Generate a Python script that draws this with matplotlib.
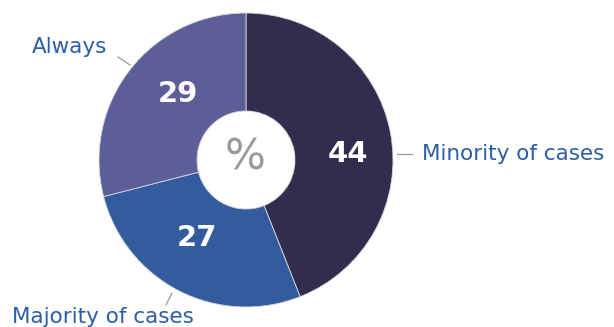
import matplotlib
matplotlib.use('Agg')
import matplotlib.pyplot as plt

# Share of cases, in percent
labels = ["Minority of cases", "Majority of cases", "Always"]
values = [44, 27, 29]
colors = ['#312d4e', '#335c9f', '#5b5e97']

plt.rcParams['font.family'] = ['DejaVu Sans']

fig = plt.figure(figsize=(6.14, 3.27), dpi=100, facecolor='white')
ax = fig.add_axes([0, 0, 1, 1])
ax.set_xlim(0, 614)
ax.set_ylim(327, 0)
ax.set_aspect('equal')
ax.axis('off')

cx, cy, r_out, r_in = 246, 160, 147, 49

# y axis runs downwards, so counterclock=True draws clockwise on screen
wedges, _ = ax.pie(values, colors=colors, startangle=-90, counterclock=True,
                   center=(cx, cy), radius=r_out,
                   wedgeprops=dict(width=r_out - r_in, edgecolor='#d8d8e0', linewidth=0.6))
ax.set_xlim(0, 614)
ax.set_ylim(327, 0)

ax.text(245, 158, '%', ha='center', va='center', fontsize=31, color='#9a9a9a',
        fontweight='normal')

# value labels inside the ring
value_pos = [(348, 154), (197, 238), (178, 94)]
for (x, y), v in zip(value_pos, values):
    ax.text(x, y, str(v), ha='center', va='center', fontsize=21,
            fontweight='bold', color='white')

# category labels with short leader lines
label_col = '#2b5ea6'
line_col = '#999999'
fs = 15.5
ax.plot([397, 412], [154, 154], color=line_col, lw=0.9)
ax.text(422, 154, labels[0], ha='left', va='center', fontsize=fs, color=label_col)
ax.plot([172, 166], [293, 305], color=line_col, lw=0.9)
ax.text(12, 317, labels[1], ha='left', va='center', fontsize=fs, color=label_col)
ax.plot([118, 130], [57, 65], color=line_col, lw=0.9)
ax.text(107, 47, labels[2], ha='right', va='center', fontsize=fs, color=label_col)

fig.savefig('out.png', dpi=100, facecolor='white')
